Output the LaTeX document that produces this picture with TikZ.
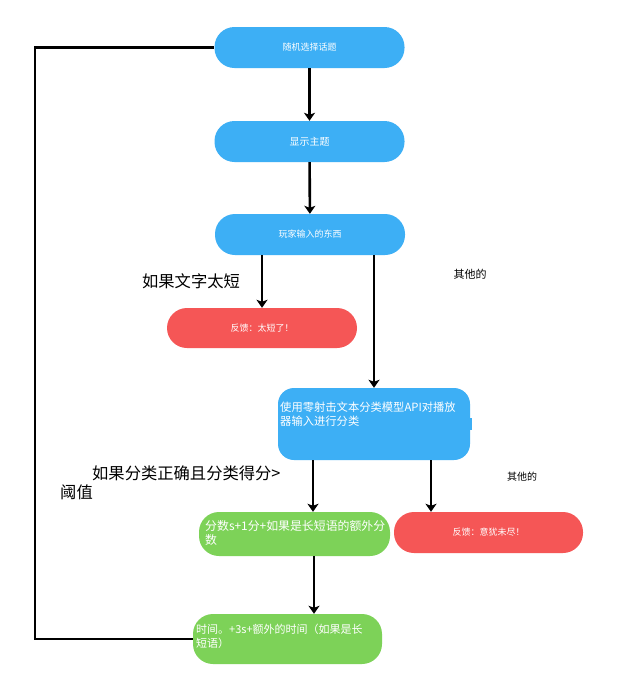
\documentclass[tikz,border=0pt]{standalone}
\usepackage{fontspec}
\newfontfamily\cjk{Noto Sans CJK SC}
\usetikzlibrary{arrows.meta}
\definecolor{pblue}{RGB}{61,175,245}
\definecolor{pred}{RGB}{245,86,86}
\definecolor{pgreen}{RGB}{125,210,88}
\tikzset{
  pill/.style={rounded corners=20pt, minimum width=190pt, minimum height=41pt, inner sep=0pt, text=white, font=\cjk\fontsize{9}{11}\selectfont},
  intext/.style={anchor=north west, inner sep=0pt, align=left, text=white, font=\cjk\fontsize{11}{14}\selectfont},
  arr/.style={line width=2.6pt, -{Stealth[length=8pt,width=11pt,inset=2pt]}},
  loopline/.style={line width=2.6pt},
  biglabel/.style={inner sep=0pt, font=\cjk\fontsize{16.3}{19}\selectfont, align=left},
  smalllabel/.style={inner sep=0pt, font=\cjk\fontsize{11}{13}\selectfont}
}
\begin{document}
\begin{tikzpicture}[x=1pt,y=-1pt]
\useasboundingbox (0,0) rectangle (618,689);
\fill[white] (0,0) rectangle (618,689);

\node[pill, fill=pblue] (n1) at (309.5,47.5) {随机选择话题};
\node[pill, fill=pblue] (n2) at (309.5,141.5) {\fontsize{10}{12}\selectfont 显示主题};
\node[pill, fill=pblue] (n3) at (310,234.5) {玩家输入的东西};
\node[pill, fill=pred, minimum height=40pt] (r1) at (262,328) {反馈：太短了！};
\node[pill, fill=pblue, rounded corners=16pt, minimum width=192pt, minimum height=72pt] (n4) at (374,424) {};
\fill[pblue] ([xshift=-4pt,yshift=6pt]n4.east) rectangle ([xshift=2pt,yshift=-6pt]n4.east);
\node[intext, font=\cjk\fontsize{11.3}{14}\selectfont] (t4) at (280,402) {使用零射击文本分类模型API对播放\\器输入进行分类};
\node[pill, fill=pgreen, minimum width=191pt, minimum height=44pt] (g1) at (294.5,534) {};
\node[intext, font=\cjk\fontsize{11.9}{14}\selectfont] (tg1) at (205,520) {分数s+1分+如果是长短语的额外分\\数};
\node[pill, fill=pred, minimum width=189pt] (r2) at (488.5,532.5) {反馈：意犹未尽！};
\node[pill, fill=pgreen, minimum width=189pt, minimum height=50pt] (g2) at (287.5,639) {};
\node[intext] (tg2) at (196,624) {时间。+3s+额外的时间（如果是长\\短语）};

\node[biglabel] (l1) at (191,281) {如果文字太短};
\node[smalllabel] (l2) at (470,274) {其他的};
\node[biglabel, anchor=north west] (l3) at (60,466) {\hspace*{32pt}如果分类正确且分类得分>\\阈值};
\node[smalllabel, font=\cjk\fontsize{10}{12}\selectfont] (l4) at (522,477) {其他的};

\draw[arr] (n1) -- (n2);
\draw[arr] (n2) -- (n3);
\draw[arr] (n3.south -| r1.north) -- (r1.north);
\draw[arr] (n3.south -| n4.north) -- (n4.north);
\draw[arr] ([xshift=-61pt]n4.south) -- ([xshift=-61pt]n4.south |- g1.north);
\draw[arr] ([xshift=57pt]n4.south) -- ([xshift=57pt]n4.south |- r2.north);
\draw[arr] ([xshift=19.5pt]g1.south) -- ([xshift=19.5pt]g1.south |- g2.north);
\draw[loopline] (g2.west) -- ++(-158,0) |- (n1.west);
\end{tikzpicture}
\end{document}
